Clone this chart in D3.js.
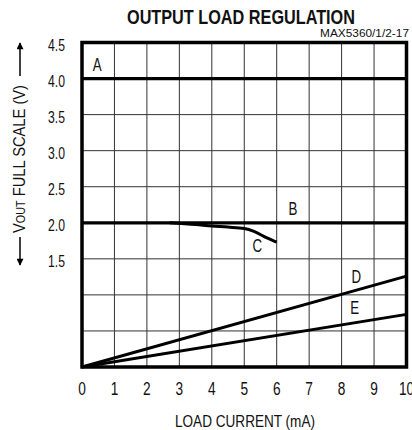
<!DOCTYPE html>
<html>
<head>
<meta charset="utf-8">
<script src="https://cdn.jsdelivr.net/npm/d3@7"></script>
<style>
  body { margin: 0; background: #fff; }
  svg { display: block; }
  text { font-family: "Liberation Sans", Arial, sans-serif; fill: #111; }
</style>
</head>
<body>
<svg width="412" height="430"></svg>
<script>
// chart values
var xTicks = [0, 1, 2, 3, 4, 5, 6, 7, 8, 9, 10];
var yGrid = [0, 0.5, 1.0, 1.5, 2.0, 2.5, 3.0, 3.5, 4.0, 4.5];
var yTickLabels = ["4.5", "4.0", "3.5", "3.0", "2.5", "2.0", "1.5"];
var seriesA = [[0, 4.0], [10, 4.0]];
var seriesB = [[0, 2.0], [10, 2.0]];
var seriesC = [[2.7, 2.0], [3.5, 1.975], [4.0, 1.955], [4.5, 1.94], [5.0, 1.92], [5.3, 1.88], [5.7, 1.79], [6.0, 1.73]];
var seriesD = [[0, 0], [10, 1.26]];
var seriesE = [[0, 0], [10, 0.73]];
var curveLabels = [
    {name: "A", x: 0.47, y: 4.2},
    {name: "B", x: 6.5, y: 2.2},
    {name: "C", x: 5.4, y: 1.68},
    {name: "D", x: 8.45, y: 1.25},
    {name: "E", x: 8.4, y: 0.82}
];

var svg = d3.select("svg");
var narrow = 0.74; // horizontal squeeze to mimic the condensed face

var x = d3.scaleLinear().domain([0, 10]).range([82, 406.5]);
var y = d3.scaleLinear().domain([0, 4.5]).range([367, 42.5]);

function place(px, py) {
    return "translate(" + px + "," + py + ") scale(" + narrow + ",1)";
}

// title
svg.append("text")
    .attr("x", 241).attr("y", 24)
    .attr("text-anchor", "middle")
    .attr("textLength", 228).attr("lengthAdjust", "spacingAndGlyphs")
    .style("font-size", "19.5px").style("font-weight", "bold")
    .text("OUTPUT LOAD REGULATION");

svg.append("text")
    .attr("x", 409).attr("y", 37)
    .attr("text-anchor", "end")
    .attr("textLength", 89).attr("lengthAdjust", "spacingAndGlyphs")
    .style("font-size", "10.5px")
    .text("MAX5360/1/2-17");

// grid
var grid = svg.append("g");
grid.selectAll(".vgrid")
    .data(xTicks)
    .enter().append("line")
    .attr("class", "vgrid")
    .attr("x1", function(d) { return x(d); })
    .attr("x2", function(d) { return x(d); })
    .attr("y1", y(0)).attr("y2", y(4.5))
    .attr("stroke", "#333").attr("stroke-width", 1);

grid.selectAll(".hgrid")
    .data(yGrid)
    .enter().append("line")
    .attr("class", "hgrid")
    .attr("x1", x(0)).attr("x2", x(10))
    .attr("y1", function(d) { return y(d); })
    .attr("y2", function(d) { return y(d); })
    .attr("stroke", "#333").attr("stroke-width", 1);

// curves
var line = d3.line()
    .x(function(d) { return x(d[0]); })
    .y(function(d) { return y(d[1]); })
    .curve(d3.curveMonotoneX);

[seriesA, seriesB].forEach(function(s) {
    svg.append("path").datum(s)
        .attr("d", line)
        .attr("fill", "none").attr("stroke", "#000").attr("stroke-width", 3.3);
});
[seriesC, seriesD, seriesE].forEach(function(s) {
    svg.append("path").datum(s)
        .attr("d", line)
        .attr("fill", "none").attr("stroke", "#000").attr("stroke-width", 3);
});

// frame
svg.append("rect")
    .attr("x", x(0)).attr("y", y(4.5))
    .attr("width", x(10) - x(0)).attr("height", y(0) - y(4.5))
    .attr("fill", "none").attr("stroke", "#000").attr("stroke-width", 3.5);

// curve labels
svg.selectAll(".clabel")
    .data(curveLabels)
    .enter().append("text")
    .attr("class", "clabel")
    .attr("transform", function(d) { return place(x(d.x), y(d.y) + 6.5); })
    .attr("text-anchor", "middle")
    .style("font-size", "18px")
    .text(function(d) { return d.name; });

// tick labels
svg.selectAll(".xlab")
    .data(xTicks)
    .enter().append("text")
    .attr("class", "xlab")
    .attr("transform", function(d) { return place(x(d), 395); })
    .attr("text-anchor", "middle")
    .style("font-size", "18.5px")
    .text(function(d) { return d; });

svg.selectAll(".ylab")
    .data(yTickLabels)
    .enter().append("text")
    .attr("class", "ylab")
    .attr("transform", function(d) { return place(65, y(+d) + 8.5); })
    .attr("text-anchor", "end")
    .style("font-size", "16.5px")
    .text(function(d) { return d; });

// axis titles
svg.append("text")
    .attr("x", 245).attr("y", 427)
    .attr("text-anchor", "middle")
    .attr("textLength", 140).attr("lengthAdjust", "spacingAndGlyphs")
    .style("font-size", "17px")
    .text("LOAD CURRENT (mA)");

var ylab = svg.append("text")
    .attr("transform", "translate(25,159) rotate(-90)")
    .attr("text-anchor", "middle")
    .attr("textLength", 148).attr("lengthAdjust", "spacingAndGlyphs")
    .style("font-size", "17px");
ylab.append("tspan").text("V");
ylab.append("tspan").style("font-size", "12.5px").text("OUT");
ylab.append("tspan").text(" FULL SCALE (V)");

// arrows
svg.append("defs").append("marker")
    .attr("id", "arrowhead")
    .attr("viewBox", "0 0 10 10")
    .attr("refX", 9).attr("refY", 5)
    .attr("markerWidth", 9).attr("markerHeight", 7)
    .attr("markerUnits", "userSpaceOnUse")
    .attr("orient", "auto")
    .append("path")
    .attr("d", "M0,0 L10,5 L0,10 Z")
    .attr("fill", "#000");

svg.append("line")
    .attr("x1", 20).attr("x2", 20).attr("y1", 76).attr("y2", 43)
    .attr("stroke", "#000").attr("stroke-width", 1.5)
    .attr("marker-end", "url(#arrowhead)");
svg.append("line")
    .attr("x1", 20).attr("x2", 20).attr("y1", 237).attr("y2", 265)
    .attr("stroke", "#000").attr("stroke-width", 1.5)
    .attr("marker-end", "url(#arrowhead)");
</script>
</body>
</html>
